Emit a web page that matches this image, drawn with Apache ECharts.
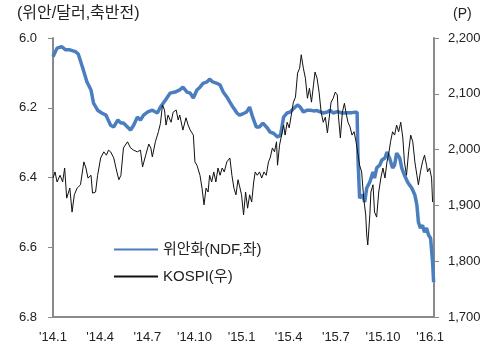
<!DOCTYPE html>
<html>
<head>
<meta charset="utf-8">
<script src="https://cdn.jsdelivr.net/npm/echarts@6/dist/echarts.min.js"></script>
<style>
  html, body { margin: 0; padding: 0; background: #fff; }
  #chart { width: 501px; height: 351px; }
</style>
</head>
<body>
<div id="chart"></div>
<script>
const chart = echarts.init(document.getElementById('chart'))

// 위안화 NDF (위안/달러)
const yuanDates = ['2014-01-01','2014-01-09','2014-01-18','2014-01-26','2014-02-03','2014-02-13','2014-02-18','2014-02-26','2014-03-06','2014-03-14','2014-03-19','2014-03-27','2014-04-04','2014-04-12','2014-04-21','2014-04-27','2014-05-05','2014-05-11','2014-05-16','2014-05-24','2014-05-30','2014-06-05','2014-06-12','2014-06-18','2014-06-24','2014-07-02','2014-07-11','2014-07-21','2014-07-27','2014-08-06','2014-08-15','2014-08-25','2014-09-03','2014-09-09','2014-09-17','2014-09-23','2014-09-29','2014-10-06','2014-10-12','2014-10-18','2014-10-26','2014-10-31','2014-11-06','2014-11-14','2014-11-20','2014-11-26','2014-12-03','2014-12-09','2014-12-15','2014-12-23','2014-12-28','2015-01-03','2015-01-11','2015-01-17','2015-01-23','2015-01-30','2015-02-05','2015-02-11','2015-02-19','2015-02-24','2015-03-02','2015-03-10','2015-03-16','2015-03-22','2015-03-29','2015-04-04','2015-04-10','2015-04-18','2015-04-23','2015-04-29','2015-05-07','2015-05-13','2015-05-19','2015-05-26','2015-06-01','2015-06-07','2015-06-15','2015-06-20','2015-06-26','2015-07-04','2015-07-14','2015-07-19','2015-07-25','2015-08-02','2015-08-08','2015-08-12','2015-08-14','2015-08-17','2015-08-23','2015-08-27','2015-08-31','2015-09-06','2015-09-12','2015-09-15','2015-09-19','2015-09-25','2015-09-29','2015-10-05','2015-10-09','2015-10-14','2015-10-20','2015-10-24','2015-10-28','2015-11-03','2015-11-07','2015-11-12','2015-11-18','2015-11-22','2015-11-26','2015-12-02','2015-12-06','2015-12-09','2015-12-13','2015-12-17','2015-12-21','2015-12-25','2015-12-29','2016-01-02','2016-01-06','2016-01-08']
const yuanValues = [6.054,6.029,6.025,6.034,6.034,6.039,6.046,6.086,6.126,6.149,6.187,6.207,6.215,6.221,6.250,6.255,6.235,6.244,6.244,6.255,6.264,6.250,6.227,6.235,6.221,6.212,6.207,6.215,6.198,6.178,6.158,6.155,6.149,6.141,6.155,6.158,6.172,6.149,6.141,6.130,6.126,6.118,6.126,6.130,6.135,6.155,6.169,6.184,6.198,6.215,6.221,6.218,6.212,6.198,6.227,6.255,6.255,6.244,6.258,6.270,6.273,6.284,6.278,6.227,6.215,6.212,6.203,6.192,6.198,6.212,6.207,6.207,6.209,6.208,6.212,6.215,6.212,6.207,6.215,6.211,6.215,6.215,6.214,6.214,6.213,6.213,6.356,6.459,6.450,6.470,6.430,6.413,6.384,6.402,6.373,6.364,6.350,6.344,6.327,6.344,6.373,6.364,6.330,6.344,6.373,6.393,6.413,6.422,6.430,6.450,6.479,6.528,6.545,6.537,6.557,6.545,6.565,6.574,6.643,6.700]

// KOSPI (P)
const kospiDates = ['2014-01-01','2014-01-05','2014-01-09','2014-01-15','2014-01-20','2014-01-24','2014-01-28','2014-02-03','2014-02-07','2014-02-11','2014-02-16','2014-02-22','2014-02-28','2014-03-04','2014-03-08','2014-03-14','2014-03-17','2014-03-23','2014-03-27','2014-04-02','2014-04-08','2014-04-13','2014-04-17','2014-04-21','2014-04-27','2014-05-03','2014-05-07','2014-05-11','2014-05-16','2014-05-24','2014-05-30','2014-06-05','2014-06-12','2014-06-18','2014-06-22','2014-06-28','2014-07-04','2014-07-08','2014-07-11','2014-07-17','2014-07-23','2014-07-27','2014-07-31','2014-08-04','2014-08-07','2014-08-11','2014-08-17','2014-08-21','2014-08-27','2014-08-31','2014-09-03','2014-09-09','2014-09-15','2014-09-19','2014-09-23','2014-09-29','2014-10-02','2014-10-06','2014-10-12','2014-10-16','2014-10-20','2014-10-24','2014-10-28','2014-10-31','2014-11-04','2014-11-08','2014-11-12','2014-11-16','2014-11-20','2014-11-24','2014-11-28','2014-12-03','2014-12-09','2014-12-13','2014-12-17','2014-12-21','2014-12-25','2014-12-28','2015-01-01','2015-01-05','2015-01-09','2015-01-13','2015-01-17','2015-01-21','2015-01-25','2015-01-28','2015-02-01','2015-02-05','2015-02-09','2015-02-13','2015-02-17','2015-02-21','2015-02-24','2015-02-28','2015-03-04','2015-03-08','2015-03-10','2015-03-14','2015-03-18','2015-03-22','2015-03-25','2015-03-29','2015-04-02','2015-04-06','2015-04-10','2015-04-14','2015-04-18','2015-04-22','2015-04-25','2015-04-29','2015-05-03','2015-05-07','2015-05-11','2015-05-15','2015-05-19','2015-05-22','2015-05-26','2015-05-30','2015-06-03','2015-06-07','2015-06-11','2015-06-15','2015-06-19','2015-06-22','2015-06-26','2015-06-30','2015-07-04','2015-07-06','2015-07-10','2015-07-14','2015-07-18','2015-07-21','2015-07-25','2015-07-29','2015-08-02','2015-08-06','2015-08-10','2015-08-14','2015-08-17','2015-08-21','2015-08-25','2015-08-29','2015-08-31','2015-09-02','2015-09-06','2015-09-08','2015-09-12','2015-09-15','2015-09-19','2015-09-23','2015-09-27','2015-10-01','2015-10-05','2015-10-09','2015-10-13','2015-10-16','2015-10-20','2015-10-24','2015-10-28','2015-11-01','2015-11-05','2015-11-09','2015-11-12','2015-11-16','2015-11-20','2015-11-24','2015-11-28','2015-12-02','2015-12-06','2015-12-09','2015-12-13','2015-12-17','2015-12-21','2015-12-25','2015-12-27','2015-12-31','2016-01-04','2016-01-06']
const kospiValues = [1949,1960,1942,1954,1942,1967,1913,1931,1888,1919,1931,1937,1978,1967,1949,1954,1922,1924,1954,1985,1996,1990,1999,1996,1985,1960,1946,1954,2003,2014,2003,1999,1996,1999,1969,1990,2010,2003,1987,2014,2032,2047,2080,2071,2044,2062,2049,2067,2071,2053,2062,2035,2057,2044,2035,2026,1978,1972,1954,1931,1901,1931,1924,1954,1942,1960,1942,1967,1954,1967,1960,1978,1985,1954,1931,1919,1946,1935,1919,1883,1924,1895,1919,1906,1942,1960,1954,1960,1949,1960,1954,1978,1985,2003,1996,2014,1972,2008,2026,2044,2026,2049,2039,2062,2085,2094,2137,2146,2170,2146,2128,2092,2110,2085,2116,2139,2128,2103,2067,2049,2058,2030,2062,2085,2092,2103,2098,2062,2021,2067,2083,2067,2049,2041,2026,2032,2014,1990,1972,1960,1913,1883,1847,1829,1883,1924,1937,1888,1879,1924,1949,1967,1949,1978,1996,2014,2032,2026,2044,2032,2049,2021,1978,1954,1996,2026,2014,1978,1954,1937,1960,1978,1990,1972,1960,1967,1949,1906]

const quarterLabels = ["'14.1", "'14.4", "'14.7", "'14.10", "'15.1", "'15.4", "'15.7", "'15.10", "'16.1"]

// date string -> months since 2014-01-01
const toMonth = (s) => {
  const [y, m, d] = s.split('-').map(Number)
  const dim = new Date(y, m, 0).getDate()
  return (y - 2014) * 12 + (m - 1) + (d - 1) / dim
}

const font = "'Liberation Sans', Arial, 'Noto Sans CJK KR', sans-serif"
const axisGray = '#8a8a8a'

let option = {
  backgroundColor: '#fff',
  animation: false,
  textStyle: { fontFamily: font },
  grid: { left: 53, right: 67, top: 38, bottom: 34 },
  legend: {
    orient: 'vertical',
    left: 108,
    top: 237,
    itemWidth: 44,
    itemHeight: 14,
    itemGap: 12,
    itemStyle: { opacity: 0 },
    textStyle: { fontSize: 15, color: '#222', fontFamily: font },
    data: ['위안화(NDF,좌)', 'KOSPI(우)']
  },
  graphic: [
    { type: 'text', left: 17, top: 6, style: { text: '(위안/달러,축반전)', fontSize: 16, fill: '#222', fontFamily: font } },
    { type: 'text', left: 453, top: 7, style: { text: '(P)', fontSize: 14, fill: '#222', fontFamily: font } }
  ],
  xAxis: {
    type: 'value',
    min: 0,
    max: 24.25,
    interval: 3,
    axisLine: { lineStyle: { color: axisGray, width: 2 } },
    axisTick: { show: false },
    splitLine: { show: false },
    axisLabel: {
      color: '#222',
      fontSize: 13,
      margin: 14,
      showMaxLabel: false,
      formatter: (v) => quarterLabels[Math.round(v / 3)] || ''
    }
  },
  yAxis: [{
    type: 'value',
    inverse: true,
    min: 6.0,
    max: 6.8,
    interval: 0.2,
    axisLine: { show: true, lineStyle: { color: axisGray, width: 2 } },
    axisTick: { show: true, length: 5, lineStyle: { color: axisGray, width: 1 } },
    splitLine: { show: false },
    axisLabel: { color: '#222', fontSize: 13, margin: 16, formatter: (v) => v.toFixed(1) }
  }, {
    type: 'value',
    min: 1700,
    max: 2200,
    interval: 100,
    position: 'right',
    axisLine: { show: true, lineStyle: { color: axisGray, width: 2 } },
    axisTick: { show: true, length: 5, lineStyle: { color: axisGray, width: 1 } },
    splitLine: { show: false },
    axisLabel: { color: '#222', fontSize: 13, margin: 14, formatter: (v) => v.toLocaleString('en-US') }
  }],
  series: [{
    name: '위안화(NDF,좌)',
    type: 'line',
    yAxisIndex: 0,
    symbol: 'none',
    lineStyle: { color: '#4a7ebf', width: 3.5 },
    itemStyle: { color: '#4a7ebf' },
    data: yuanDates.map((d, i) => [toMonth(d), yuanValues[i]])
  }, {
    name: 'KOSPI(우)',
    type: 'line',
    yAxisIndex: 1,
    symbol: 'none',
    lineStyle: { color: '#111', width: 1 },
    itemStyle: { color: '#111' },
    data: kospiDates.map((d, i) => [toMonth(d), kospiValues[i]])
  }]
}
chart.setOption(option)
</script>
</body>
</html>
